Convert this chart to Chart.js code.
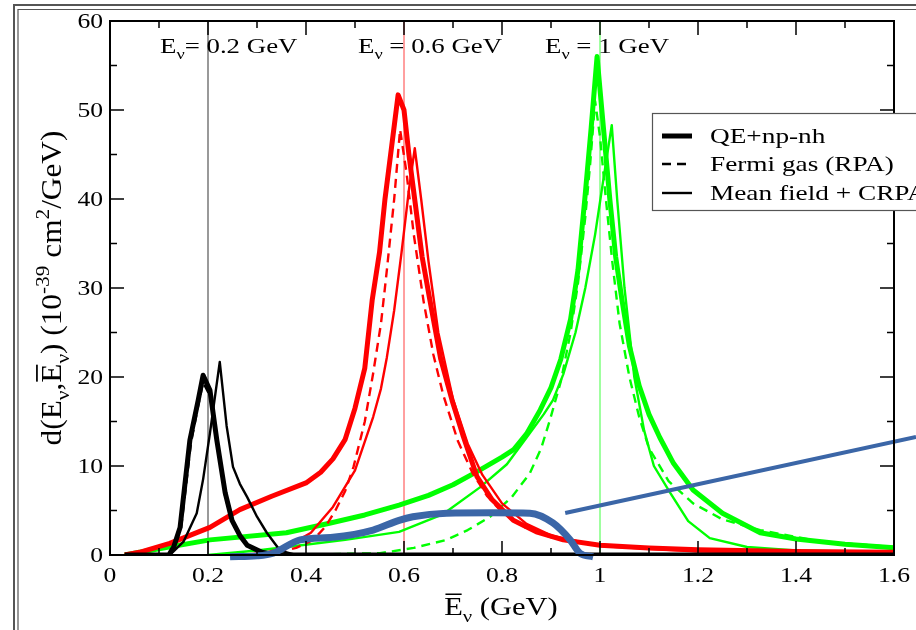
<!DOCTYPE html>
<html>
<head>
<meta charset="utf-8">
<script src="https://cdn.jsdelivr.net/npm/chart.js@4/dist/chart.umd.min.js"></script>
<style>
  html, body { margin: 0; padding: 0; background: #fff; }
  #wrap { width: 916px; height: 630px; }
</style>
</head>
<body>
<div id="wrap"><canvas id="chart" width="916" height="630"></canvas></div>
<script>
// ==========================================
// A. DATA
// ==========================================
const X_TICKS = [0, 0.2, 0.4, 0.6, 0.8, 1, 1.2, 1.4, 1.6];
const Y_TICKS = [0, 10, 20, 30, 40, 50, 60];
const E_NU = [0.2, 0.6, 1.0];
const E_NU_LABELS = ['0.2', '0.6', '1'];

// E = 0.2 GeV (black)
const k_qe_x   = [0.03, 0.12, 0.13, 0.143, 0.163, 0.18, 0.19, 0.204, 0.218, 0.235, 0.249, 0.265, 0.28, 0.31, 0.34, 1.6];
const k_qe_y   = [0, 0, 0.9, 3.1, 12.9, 17.4, 20.2, 18.5, 12.9, 7.0, 3.9, 2.2, 1.1, 0.3, 0, 0];
const k_rpa_x  = [0.12, 0.13, 0.145, 0.165, 0.18, 0.19, 0.205, 0.22, 0.235, 0.25, 0.28, 0.32, 0.35];
const k_rpa_y  = [0, 0.7, 3.0, 12.5, 16.8, 19.4, 17.8, 12.2, 6.6, 3.6, 1.0, 0.2, 0];
const k_crpa_x = [0.12, 0.126, 0.15, 0.177, 0.19, 0.204, 0.224, 0.238, 0.251, 0.265, 0.28, 0.30, 0.32, 0.347, 0.38];
const k_crpa_y = [0, 0.2, 1.5, 4.7, 8.5, 13.7, 21.7, 14.5, 9.9, 8.0, 6.5, 4.3, 2.5, 0.5, 0];

// E = 0.6 GeV (red)
const r_qe_x   = [0.03, 0.06, 0.122, 0.204, 0.265, 0.33, 0.40, 0.43, 0.455, 0.48, 0.50, 0.52, 0.535, 0.55, 0.561, 0.575, 0.588, 0.60, 0.61, 0.622, 0.637, 0.653, 0.675, 0.698, 0.72, 0.749, 0.78, 0.823, 0.87, 0.925, 1.0, 1.1, 1.2, 1.4, 1.6];
const r_qe_y   = [0, 0.3, 1.3, 3.1, 5.1, 6.6, 8.1, 9.3, 10.8, 13, 16.5, 21, 28.6, 34, 39.9, 46, 51.7, 50, 45, 39.9, 33.5, 28.6, 22, 17.4, 13.5, 8.8, 6.2, 3.9, 2.6, 1.7, 1.1, 0.8, 0.6, 0.4, 0.3];
const r_rpa_x  = [0.25, 0.33, 0.38, 0.415, 0.44, 0.46, 0.48, 0.497, 0.52, 0.537, 0.553, 0.565, 0.58, 0.592, 0.605, 0.62, 0.64, 0.66, 0.68, 0.71, 0.74, 0.77, 0.8, 0.85, 0.9, 1.0, 1.2, 1.4, 1.6];
const r_rpa_y  = [0, 0.2, 0.8, 1.7, 3.2, 5.0, 7.2, 9.9, 15, 20.4, 26, 32, 40, 47.8, 43, 36, 28.5, 22.5, 18, 12.8, 9.2, 6.6, 4.8, 3.0, 2.0, 1.1, 0.5, 0.3, 0.2];
const r_crpa_x = [0.28, 0.32, 0.36, 0.41, 0.455, 0.5, 0.537, 0.553, 0.565, 0.58, 0.595, 0.61, 0.622, 0.635, 0.65, 0.67, 0.70, 0.73, 0.76, 0.8, 0.85, 0.9, 1.0, 1.2, 1.6];
const r_crpa_y = [0, 0.3, 0.9, 2.5, 5.4, 9.5, 15.5, 18.7, 22.2, 27.5, 34, 41, 45.7, 40, 33, 25, 17.5, 12.5, 9, 5.8, 3.5, 2.2, 1.0, 0.4, 0.2];

// E = 1 GeV (green)
const g_qe_x   = [0.03, 0.1, 0.204, 0.36, 0.45, 0.52, 0.59, 0.65, 0.70, 0.75, 0.8, 0.823, 0.85, 0.878, 0.9, 0.92, 0.94, 0.955, 0.969, 0.982, 0.994, 1.007, 1.02, 1.032, 1.045, 1.06, 1.08, 1.10, 1.122, 1.15, 1.19, 1.25, 1.327, 1.4, 1.5, 1.6];
const g_qe_y   = [0, 0.7, 1.7, 2.5, 3.6, 4.5, 5.6, 6.7, 7.9, 9.4, 11, 11.8, 13.6, 16.3, 18.8, 22, 26.5, 32, 40, 48, 56, 48, 40, 33.5, 28.6, 23.5, 19, 15.8, 13.2, 10.3, 7.3, 4.7, 2.5, 1.8, 1.2, 0.8];
const g_rpa_x  = [0.3, 0.45, 0.551, 0.62, 0.687, 0.73, 0.776, 0.82, 0.857, 0.88, 0.898, 0.92, 0.94, 0.955, 0.97, 0.98, 0.99, 1.0, 1.012, 1.025, 1.04, 1.06, 1.08, 1.1, 1.14, 1.19, 1.25, 1.327, 1.45, 1.6];
const g_rpa_y  = [0, 0.1, 0.2, 0.8, 1.7, 2.8, 4.3, 6.5, 9.2, 12, 15.2, 19.5, 25, 30.5, 38, 44, 51, 47, 40, 33, 26, 20, 15.5, 12, 8.3, 5.8, 4.0, 2.8, 1.5, 0.9];
const g_crpa_x = [0.2, 0.3, 0.39, 0.48, 0.59, 0.68, 0.755, 0.81, 0.857, 0.885, 0.904, 0.925, 0.95, 0.97, 0.99, 1.005, 1.024, 1.035, 1.05, 1.07, 1.09, 1.11, 1.143, 1.18, 1.224, 1.3, 1.4, 1.6];
const g_crpa_y = [0, 0.5, 1.1, 1.7, 2.6, 4.6, 7.6, 10.2, 13.7, 15.8, 17.4, 20.3, 25, 30, 36, 41.5, 48.3, 40, 30, 20, 14, 10, 7.0, 3.8, 1.9, 0.9, 0.5, 0.3];

// blue overlay (hand-drawn curve and pointer line)
const blue_x = [0.245, 0.30, 0.333, 0.388, 0.455, 0.537, 0.59, 0.618, 0.687, 0.78, 0.857, 0.904, 0.939, 0.959, 0.986];
const blue_y = [-0.2, -0.1, 0.2, 1.7, 2.0, 2.8, 3.9, 4.3, 4.7, 4.75, 4.7, 3.6, 1.7, 0.2, -0.2];
const pointer_x = [0.929, 1.645];
const pointer_y = [4.72, 13.26];

const LEGEND = ['QE+np-nh', 'Fermi gas (RPA)', 'Mean field + CRPA'];

// ==========================================
// B. STYLE
// ==========================================
const FONT = "'Liberation Serif', 'Times New Roman', serif";
const SX = 1.22;           // the scanned figure is stretched sideways
const BLUE = '#3b66a7';
const THICK = 5, THIN = 2.4, DASH = [9, 6];

function pts(xs, ys) {
    return xs.map((x, i) => ({ x: x, y: ys[i] }));
}

function curve(xs, ys, color, width, dash, order) {
    return {
        data: pts(xs, ys),
        borderColor: color,
        borderWidth: width,
        borderDash: dash || [],
        borderJoinStyle: 'round',
        pointRadius: 0,
        tension: 0,
        fill: false,
        order: order
    };
}

function vline(x, color, width) {
    return curve([x, x], [0, 60], color, width, null, 9);
}

// rich text: parts = [[text, kind]] kind '' | 'sub' | 'sup' | 'bar'
function richWidth(ctx, parts, size) {
    let w = 0;
    parts.forEach(([t, k]) => {
        const s = (k === 'sub' || k === 'sup') ? size * 0.68 : size;
        ctx.font = s + 'px ' + FONT;
        w += ctx.measureText(t).width;
    });
    return w;
}

function drawRich(ctx, parts, x, y, size, align, sx) {
    const w = richWidth(ctx, parts, size) * sx;
    let x0 = x;
    if (align === 'center') x0 = x - w / 2;
    if (align === 'right') x0 = x - w;
    ctx.save();
    ctx.translate(x0, y);
    ctx.scale(sx, 1);
    ctx.fillStyle = '#000';
    ctx.textBaseline = 'alphabetic';
    ctx.textAlign = 'left';
    let cx = 0;
    parts.forEach(([t, k]) => {
        let s = size, dy = 0;
        if (k === 'sub') { s = size * 0.68; dy = size * 0.28; }
        if (k === 'sup') { s = size * 0.68; dy = -size * 0.42; }
        ctx.font = s + 'px ' + FONT;
        ctx.fillText(t, cx, dy);
        const tw = ctx.measureText(t).width;
        if (k === 'bar') {
            ctx.fillRect(cx + 1, -size * 0.86, tw - 2, size * 0.06);
        }
        cx += tw;
    });
    ctx.restore();
}

// ==========================================
// C. PLUGIN: frame, ticks, labels, legend
// ==========================================
const paperPlugin = {
    id: 'paper',
    beforeDraw(chart) {
        const ctx = chart.ctx;
        ctx.save();
        ctx.fillStyle = '#fff';
        ctx.fillRect(0, 0, chart.width, chart.height);
        ctx.strokeStyle = '#555';
        ctx.lineWidth = 2;
        ctx.beginPath();
        ctx.moveTo(14, 630); ctx.lineTo(14, 5); ctx.lineTo(916, 5);
        ctx.stroke();
        ctx.lineWidth = 1.2;
        ctx.beginPath();
        ctx.moveTo(18, 630); ctx.lineTo(18, 9.5); ctx.lineTo(916, 9.5);
        ctx.stroke();
        ctx.restore();
    },
    afterDraw(chart) {
        const ctx = chart.ctx;
        const a = chart.chartArea;
        const xs = chart.scales.x, ys = chart.scales.y;

        // box
        ctx.save();
        ctx.strokeStyle = '#000';
        ctx.lineWidth = 2;
        ctx.strokeRect(a.left, a.top, a.right - a.left, a.bottom - a.top);

        // inward ticks on all four sides
        ctx.lineWidth = 1.5;
        ctx.beginPath();
        for (let i = 0; i <= 16; i++) {
            const v = i / 10;
            const p = xs.getPixelForValue(v);
            const len = i % 2 === 0 ? 14 : 7;
            ctx.moveTo(p, a.bottom); ctx.lineTo(p, a.bottom - len);
            ctx.moveTo(p, a.top); ctx.lineTo(p, a.top + len);
        }
        for (let v = 0; v <= 60; v += 5) {
            const p = ys.getPixelForValue(v);
            const len = v % 10 === 0 ? 14 : 7;
            ctx.moveTo(a.left, p); ctx.lineTo(a.left + len, p);
            ctx.moveTo(a.right, p); ctx.lineTo(a.right - len, p);
        }
        ctx.stroke();
        ctx.restore();

        // tick labels
        X_TICKS.forEach(v => {
            drawRich(ctx, [[String(v), '']], xs.getPixelForValue(v), a.bottom + 27, 21, 'center', SX);
        });
        Y_TICKS.forEach(v => {
            drawRich(ctx, [[String(v), '']], a.left - 7, ys.getPixelForValue(v) + 7, 21, 'right', SX);
        });

        // E_nu annotations
        const annX = [160, 358, 545];
        E_NU_LABELS.forEach((lab, i) => {
            const eq = i === 0 ? '= ' : ' = ';
            drawRich(ctx, [['E', ''], ['ν', 'sub'], [eq + lab + ' GeV', '']], annX[i], 53, 22, 'left', SX);
        });

        // axis titles
        drawRich(ctx, [['E', 'bar'], ['ν', 'sub'], [' (GeV)', '']], 501, 615, 25, 'center', SX);
        ctx.save();
        ctx.translate(61, 288);
        ctx.rotate(-Math.PI / 2);
        drawRich(ctx, [['d(E', ''], ['ν', 'sub'], [',', ''], ['E', 'bar'], ['ν', 'sub'],
                       [') (10', ''], ['-39', 'sup'], [' cm', ''], ['2', 'sup'], ['/GeV)', '']],
                 0, 0, 29, 'center', 1.08);
        ctx.restore();

        // legend (runs off the right edge in the original)
        ctx.save();
        ctx.fillStyle = '#fff';
        ctx.strokeStyle = '#555';
        ctx.lineWidth = 1.2;
        ctx.fillRect(652, 113, 300, 97);
        ctx.strokeRect(652.5, 113.5, 300, 97);
        ctx.strokeStyle = '#000';
        const ly = [136, 164, 193];
        const lw = [THICK, THIN, THIN];
        const ld = [[], DASH, []];
        ly.forEach((y, i) => {
            ctx.lineWidth = lw[i];
            ctx.setLineDash(ld[i]);
            ctx.beginPath();
            ctx.moveTo(662, y); ctx.lineTo(692, y);
            ctx.stroke();
        });
        ctx.restore();
        LEGEND.forEach((t, i) => {
            drawRich(ctx, [[t, '']], 710, ly[i] + 7, 22, 'left', 1.24);
        });
    }
};

// ==========================================
// D. CHART
// ==========================================
const ctx = document.getElementById('chart').getContext('2d');
const chart = new Chart(ctx, {
    type: 'line',
    data: {
        datasets: [
            Object.assign(curve(blue_x, blue_y, BLUE, 7, null, 0), { cubicInterpolationMode: 'monotone', clip: false }),
            Object.assign(curve(pointer_x, pointer_y, BLUE, 4, null, 0), { clip: false }),

            curve(k_qe_x, k_qe_y, '#000', THICK, null, 3),
            curve(k_rpa_x, k_rpa_y, '#000', THIN, DASH, 3),
            curve(k_crpa_x, k_crpa_y, '#000', THIN, null, 3),

            curve(r_qe_x, r_qe_y, '#ff0000', THICK, null, 4),
            curve(r_rpa_x, r_rpa_y, '#ff0000', THIN, DASH, 4),
            curve(r_crpa_x, r_crpa_y, '#ff0000', THIN, null, 4),

            curve(g_qe_x, g_qe_y, '#00ff00', THICK, null, 5),
            curve(g_rpa_x, g_rpa_y, '#00ff00', THIN, DASH, 5),
            curve(g_crpa_x, g_crpa_y, '#00ff00', THIN, null, 5),

            vline(E_NU[0], '#777', 1.5),
            vline(E_NU[1], '#ff4040', 1),
            vline(E_NU[2], '#40ff40', 1)
        ]
    },
    options: {
        responsive: false,
        animation: false,
        layout: { padding: { top: 21, right: 22, left: 0, bottom: 0 } },
        plugins: { legend: { display: false }, tooltip: { enabled: false } },
        scales: {
            x: {
                type: 'linear',
                min: 0, max: 1.6,
                ticks: { display: false, stepSize: 0.2 },
                grid: { display: false, drawTicks: false },
                border: { display: false },
                afterFit: s => { s.height = 75; }
            },
            y: {
                type: 'linear',
                min: 0, max: 60,
                ticks: { display: false, stepSize: 10 },
                grid: { display: false, drawTicks: false },
                border: { display: false },
                afterFit: s => { s.width = 110; }
            }
        }
    },
    plugins: [paperPlugin]
});
</script>
</body>
</html>
